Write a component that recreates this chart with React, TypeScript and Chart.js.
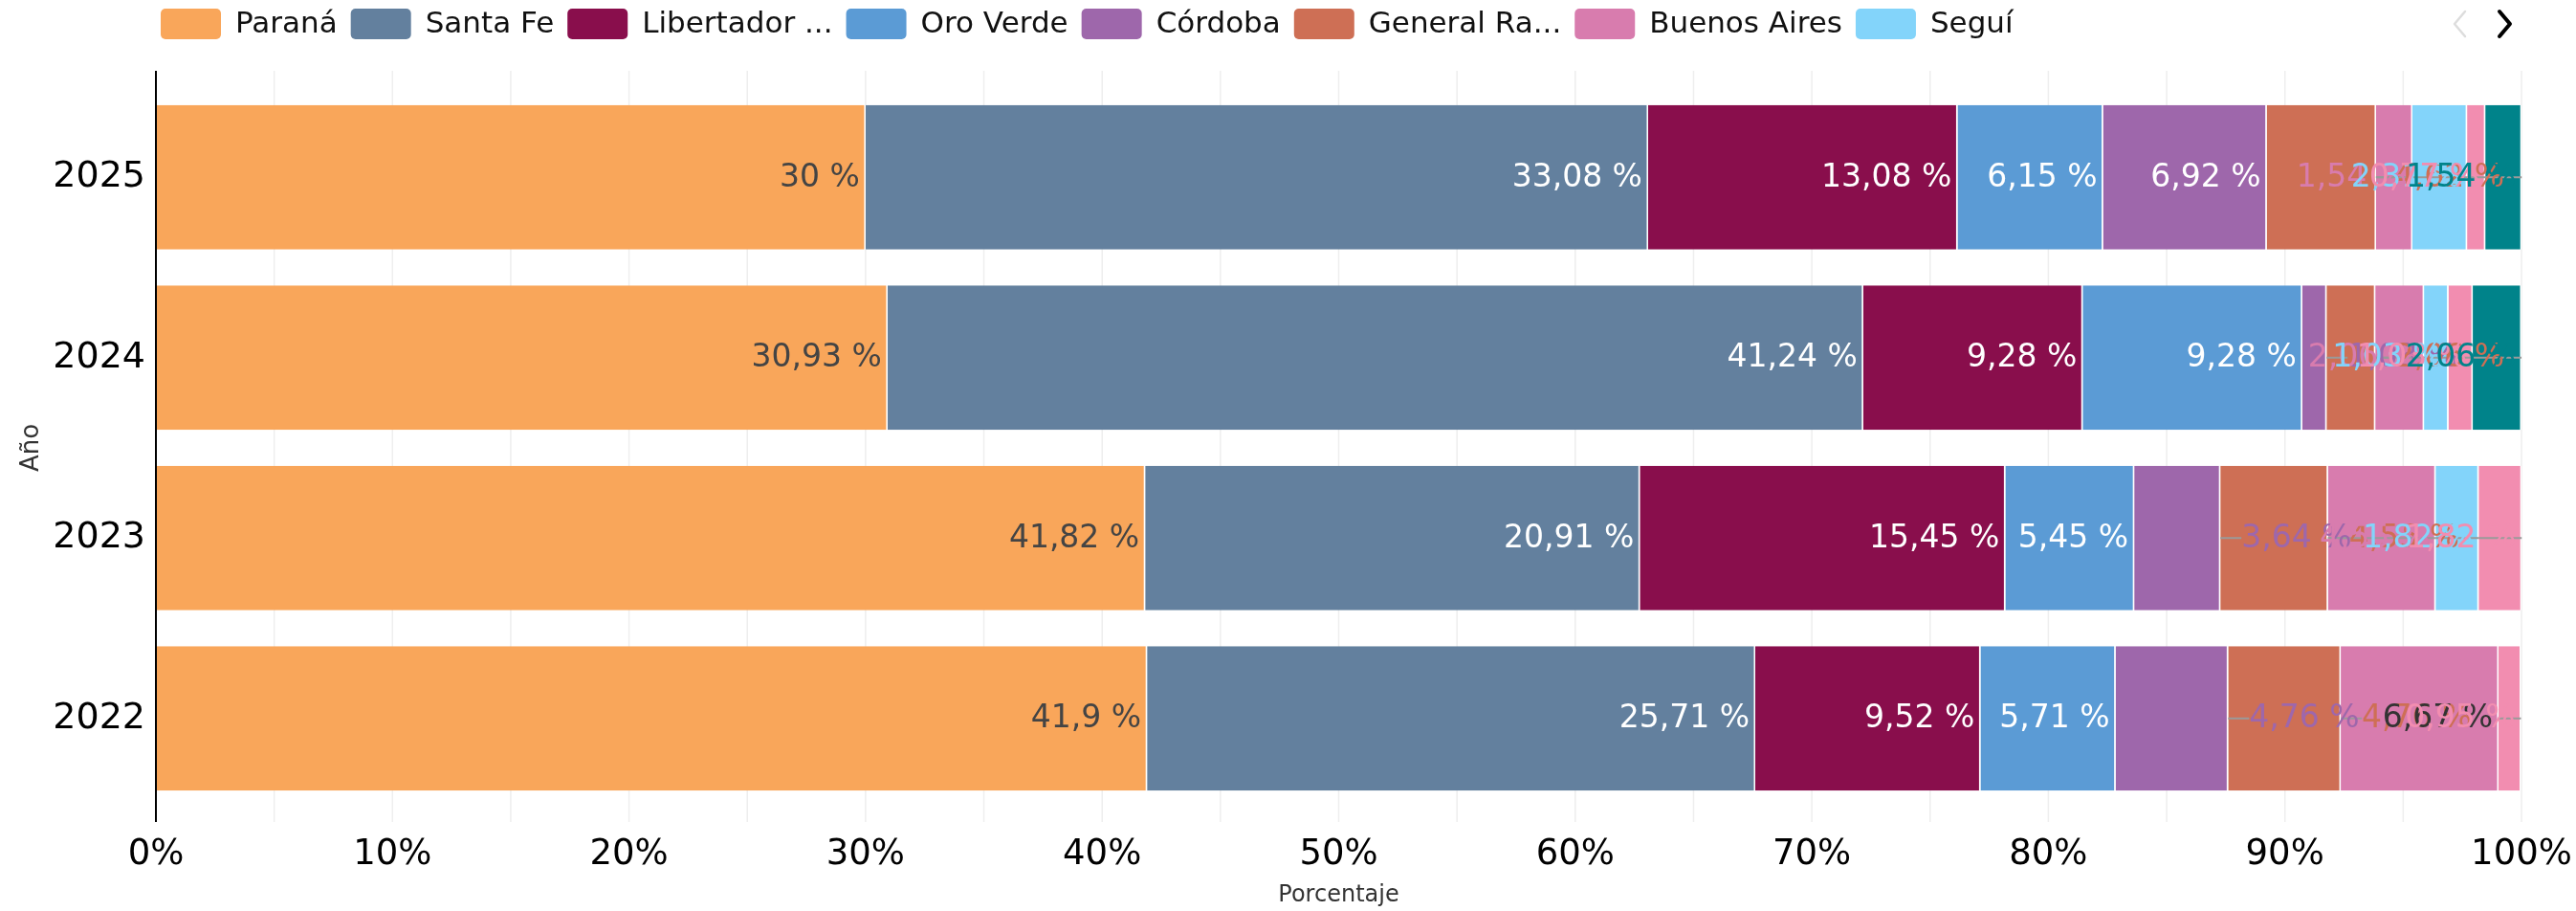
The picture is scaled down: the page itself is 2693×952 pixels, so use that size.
import React, { useEffect, useRef } from "react";
import { Chart, registerables } from "chart.js";

Chart.register(...registerables);

const FONT = '"DejaVu Sans", "Noto Sans", sans-serif';

// Categories (top to bottom)
const years = ["2025", "2024", "2023", "2022"];

// Series names
const seriesNames = [
  "Paraná",
  "Santa Fe",
  "Libertador San Martín",
  "Oro Verde",
  "Córdoba",
  "General Ramírez",
  "Buenos Aires",
  "Seguí",
  "Rosario",
  "Otras",
];

// Series values (% per year, same order as years)
const parana = [30, 30.93, 41.82, 41.9];
const santaFe = [33.08, 41.24, 20.91, 25.71];
const libertador = [13.08, 9.28, 15.45, 9.52];
const oroVerde = [6.15, 9.28, 5.45, 5.71];
const cordoba = [6.92, 1.03, 3.64, 4.76];
const generalRamirez = [4.62, 2.06, 4.55, 4.76];
const buenosAires = [1.54, 2.06, 4.55, 6.67];
const segui = [2.31, 1.03, 1.82, null];
const rosario = [0.77, 1.03, 1.82, 0.95];
const otras = [1.54, 2.06, null, null];

const seriesValues = [parana, santaFe, libertador, oroVerde, cordoba, generalRamirez, buenosAires, segui, rosario, otras];

const seriesColors = [
  "#f9a65a",
  "#63809e",
  "#890e4c",
  "#5b9bd5",
  "#9e67ab",
  "#ce6f55",
  "#d87cae",
  "#83d4fa",
  "#f28db0",
  "#00838a",
];
// label colour when label sits inside its own segment
const insideLabelColors = ["#444444", "#ffffff", "#ffffff", "#ffffff", "#ffffff", "#ffffff", "#333333", "#333333", "#333333", "#ffffff"];
// series whose labels are pushed outside (to the right) when they don't fit
const pushOutside = [false, false, false, false, true, true, false, false, false, false];

const xTickUnit = "%";
const legendPageSize = 8;

const fmt = (v: number) => String(v).replace(".", ",") + " %";

const gridPlugin = {
  id: "extGrid",
  beforeDatasetsDraw(chart: any) {
    const { ctx, chartArea, scales } = chart;
    const x = scales.x;
    ctx.save();
    ctx.strokeStyle = "#eeeeee";
    ctx.lineWidth = 1.5;
    x.ticks.forEach((t: any) => {
      const px = x.getPixelForValue(t.value);
      ctx.beginPath();
      ctx.moveTo(px, chartArea.top - 17);
      ctx.lineTo(px, chartArea.bottom + 14);
      ctx.stroke();
    });
    ctx.restore();
  },
  afterDatasetsDraw(chart: any) {
    const { ctx, chartArea, scales } = chart;
    const ax = scales.x.getPixelForValue(0);
    ctx.save();
    ctx.strokeStyle = "#000";
    ctx.lineWidth = 2;
    ctx.beginPath();
    ctx.moveTo(ax, chartArea.top - 17);
    ctx.lineTo(ax, chartArea.bottom + 14);
    ctx.stroke();
    ctx.restore();
  },
};

const labelPlugin = {
  id: "barLabels",
  afterDatasetsDraw(chart: any) {
    const { ctx, chartArea } = chart;
    ctx.save();
    ctx.font = `33px ${FONT}`;
    ctx.textBaseline = "middle";
    const nRows = chart.data.labels.length;
    for (let row = 0; row < nRows; row++) {
      const lines: number[][] = [];
      const texts: any[] = [];
      chart.data.datasets.forEach((ds: any, di: number) => {
        const v = ds.data[row];
        if (v == null) return;
        const el = chart.getDatasetMeta(di).data[row];
        const p = el.getProps(["x", "base", "y"], true);
        const endX = p.x;
        const startX = p.base;
        const y = p.y;
        const segW = endX - startX;
        const text = fmt(v);
        const tw = ctx.measureText(text).width;
        if (tw + 12 <= segW) {
          texts.push({ text, x: endX - 6, align: "right", color: ds.insideLabelColor, y });
        } else if (ds.pushOutside) {
          let lx = endX + 22;
          if (lx + tw > chartArea.right - 18) lx = chartArea.right - 18 - tw;
          lines.push([endX, lx, y]);
          texts.push({ text, x: lx, align: "left", color: ds.backgroundColor, y });
        } else {
          lines.push([startX, endX, y]);
          texts.push({ text, x: endX - 6, align: "right", color: ds.backgroundColor, y });
        }
      });
      ctx.strokeStyle = "#9a9a9a";
      ctx.lineWidth = 2;
      lines.forEach(([a, b, y]) => {
        ctx.beginPath();
        ctx.moveTo(a, y);
        ctx.lineTo(b, y);
        ctx.stroke();
      });
      texts.forEach((t) => {
        ctx.fillStyle = t.color;
        ctx.textAlign = t.align;
        ctx.fillText(t.text, t.x, t.y + 1);
      });
    }
    ctx.restore();
  },
};

const truncate = (ctx: any, s: string, max: number) => {
  if (ctx.measureText(s).width <= max) return s;
  let t = s;
  while (t.length > 1 && ctx.measureText(t + "...").width > max) t = t.slice(0, -1);
  return t + "...";
};

const legendPlugin = {
  id: "pagedLegend",
  afterDraw(chart: any) {
    const { ctx, width } = chart;
    const cy = 25;
    ctx.save();
    ctx.font = `31px ${FONT}`;
    ctx.textBaseline = "middle";
    ctx.textAlign = "left";
    let x = 168;
    chart.data.datasets.slice(0, legendPageSize).forEach((ds: any) => {
      ctx.fillStyle = ds.backgroundColor;
      ctx.beginPath();
      ctx.roundRect(x, cy - 16, 63, 32, 5);
      ctx.fill();
      x += 63 + 15;
      const t = truncate(ctx, ds.label, 210);
      ctx.fillStyle = "#111";
      ctx.fillText(t, x, cy + 1);
      x += ctx.measureText(t).width + 14;
    });
    // page arrows
    const lx = width - 122;
    const rx = width - 74;
    ctx.lineCap = "round";
    ctx.lineJoin = "round";
    ctx.strokeStyle = "#dddddd";
    ctx.lineWidth = 2.5;
    ctx.beginPath();
    ctx.moveTo(lx + 6, cy - 13);
    ctx.lineTo(lx - 5, cy);
    ctx.lineTo(lx + 6, cy + 13);
    ctx.stroke();
    ctx.strokeStyle = "#000";
    ctx.lineWidth = 4;
    ctx.beginPath();
    ctx.moveTo(rx - 6, cy - 13);
    ctx.lineTo(rx + 5, cy);
    ctx.lineTo(rx - 6, cy + 13);
    ctx.stroke();
    ctx.restore();
  },
};

export default function App() {
  const ref = useRef<HTMLCanvasElement | null>(null);

  useEffect(() => {
    document.body.style.margin = "0";
    const canvas = ref.current;
    if (!canvas) return;
    const datasets = seriesNames.map((name, i) => ({
      label: name,
      data: seriesValues[i],
      backgroundColor: seriesColors[i],
      borderColor: "#ffffff",
      borderWidth: { top: 0, bottom: 0, left: 0, right: 1.5 },
      borderSkipped: false,
      insideLabelColor: insideLabelColors[i],
      pushOutside: pushOutside[i],
      categoryPercentage: 0.8,
      barPercentage: 1,
    }));
    const chart = new Chart(canvas, {
      type: "bar",
      data: { labels: years, datasets: datasets as any },
      plugins: [gridPlugin, labelPlugin, legendPlugin],
      options: {
        indexAxis: "y",
        animation: false,
        responsive: true,
        maintainAspectRatio: false,
        devicePixelRatio: 1,
        layout: { padding: { top: 91, right: 57, left: 0, bottom: 0 } },
        plugins: {
          legend: { display: false },
          tooltip: { enabled: false },
        },
        scales: {
          x: {
            stacked: true,
            min: 0,
            max: 100,
            grid: { display: false, drawTicks: false },
            border: { display: false },
            ticks: {
              stepSize: 5,
              autoSkip: false,
              maxRotation: 0,
              padding: 26,
              color: "#000",
              font: { size: 37, family: FONT },
              callback: (v: any) => (Number(v) % 10 === 0 ? `${v}${xTickUnit}` : ""),
            },
            title: {
              display: true,
              text: "Porcentaje",
              color: "#333",
              font: { size: 24, family: FONT },
              padding: { top: 0, bottom: 2 },
            },
            afterFit: (s: any) => {
              s.height = 107;
              s.paddingRight = 0;
              s.paddingLeft = 0;
            },
          },
          y: {
            stacked: true,
            grid: { display: false, drawTicks: false },
            border: { display: false },
            ticks: {
              padding: 11,
              color: "#000",
              font: { size: 38, family: FONT },
            },
            title: {
              display: true,
              text: "Año",
              color: "#333",
              font: { size: 26, family: FONT },
              padding: { top: 18, bottom: 0 },
            },
            afterFit: (s: any) => {
              s.width = 163;
              s.paddingTop = 0;
              s.paddingBottom = 0;
            },
          },
        },
      } as any,
    });
    return () => chart.destroy();
  }, []);

  return (
    <div style={{ position: "relative", width: 2693, height: 952 }}>
      <canvas ref={ref} />
    </div>
  );
}
